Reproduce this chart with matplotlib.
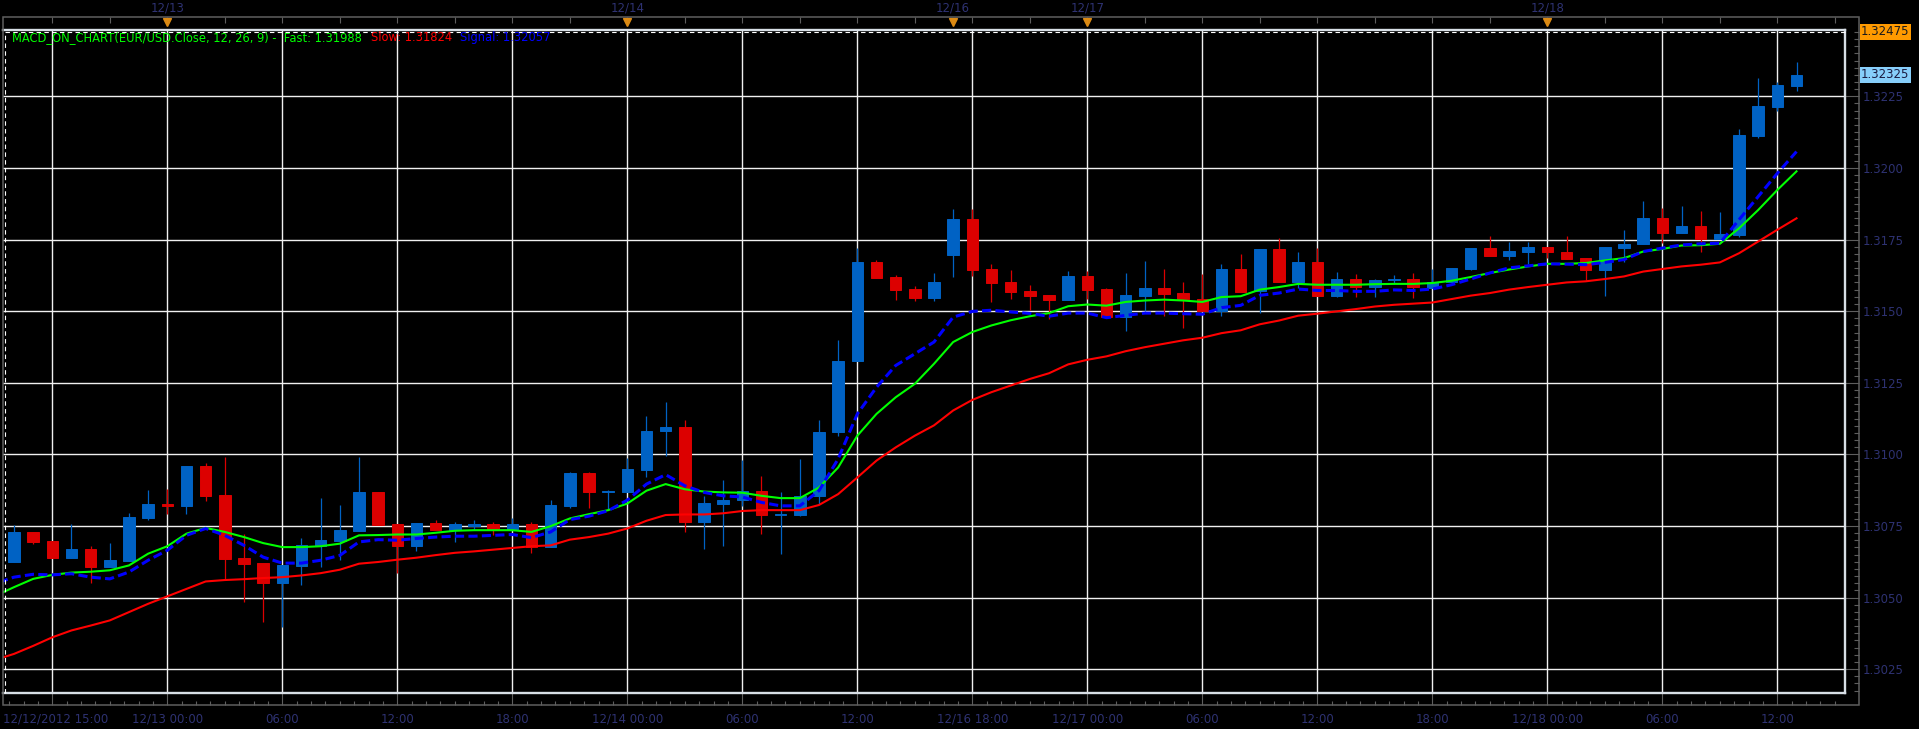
import numpy as np
import matplotlib
matplotlib.use("Agg")
import matplotlib.pyplot as plt
import matplotlib.transforms as mtransforms
from matplotlib.lines import Line2D
from matplotlib.patches import Rectangle

# hourly EUR/USD bars, first bar 12/12 16:00
opens = [1.30624, 1.30728, 1.30696, 1.30638, 1.30668, 1.30606, 1.30626, 1.30778, 1.30826, 1.30820,
         1.30959, 1.30857, 1.30637, 1.30619, 1.30549, 1.30610, 1.30680, 1.30697, 1.30733, 1.30868,
         1.30756, 1.30680, 1.30759, 1.30736, 1.30751, 1.30756, 1.30735, 1.30756, 1.30676, 1.30820,
         1.30935, 1.30869, 1.30869, 1.30945, 1.31080, 1.31096, 1.30762, 1.30827, 1.30842, 1.30873,
         1.30788, 1.30788, 1.30853, 1.31077, 1.31325, 1.31671, 1.31618, 1.31576, 1.31546, 1.31696,
         1.31821, 1.31646, 1.31601, 1.31569, 1.31555, 1.31539, 1.31622, 1.31576, 1.31478, 1.31553,
         1.31582, 1.31562, 1.31541, 1.31499, 1.31646, 1.31569, 1.31716, 1.31600, 1.31672, 1.31551,
         1.31613, 1.31584, 1.31607, 1.31613, 1.31580, 1.31600, 1.31648, 1.31720, 1.31691, 1.31708,
         1.31723, 1.31706, 1.31685, 1.31645, 1.31721, 1.31735, 1.31826, 1.31774, 1.31798, 1.31752,
         1.31766, 1.32112, 1.32213, 1.32287]
highs = [1.30752, 1.30728, 1.30696, 1.30756, 1.30679, 1.30689, 1.30794, 1.30877, 1.30878, 1.30959,
         1.30970, 1.30991, 1.30723, 1.30619, 1.30612, 1.30707, 1.30847, 1.30822, 1.30989, 1.30868,
         1.30756, 1.30759, 1.30770, 1.30764, 1.30770, 1.30763, 1.30779, 1.30763, 1.30840, 1.30938,
         1.30938, 1.30876, 1.30988, 1.31132, 1.31181, 1.31121, 1.30855, 1.30911, 1.30979, 1.30924,
         1.30869, 1.30985, 1.31121, 1.31398, 1.31719, 1.31678, 1.31625, 1.31588, 1.31632, 1.31856,
         1.31856, 1.31666, 1.31642, 1.31590, 1.31555, 1.31640, 1.31640, 1.31582, 1.31632, 1.31674,
         1.31646, 1.31601, 1.31630, 1.31664, 1.31700, 1.31716, 1.31756, 1.31707, 1.31720, 1.31636,
         1.31629, 1.31613, 1.31627, 1.31633, 1.31648, 1.31651, 1.31720, 1.31763, 1.31742, 1.31742,
         1.31723, 1.31763, 1.31685, 1.31723, 1.31784, 1.31884, 1.31861, 1.31867, 1.31850, 1.31846,
         1.32136, 1.32314, 1.32301, 1.32370]
lows = [1.30624, 1.30688, 1.30638, 1.30638, 1.30550, 1.30606, 1.30626, 1.30771, 1.30791, 1.30791,
        1.30836, 1.30564, 1.30486, 1.30413, 1.30398, 1.30543, 1.30605, 1.30631, 1.30733, 1.30752,
        1.30585, 1.30663, 1.30736, 1.30694, 1.30735, 1.30717, 1.30735, 1.30655, 1.30676, 1.30811,
        1.30813, 1.30805, 1.30869, 1.30920, 1.30995, 1.30730, 1.30668, 1.30680, 1.30820, 1.30723,
        1.30653, 1.30785, 1.30826, 1.31063, 1.31325, 1.31616, 1.31539, 1.31535, 1.31535, 1.31618,
        1.31624, 1.31531, 1.31541, 1.31503, 1.31473, 1.31539, 1.31541, 1.31478, 1.31430, 1.31499,
        1.31482, 1.31441, 1.31499, 1.31483, 1.31566, 1.31492, 1.31600, 1.31580, 1.31551, 1.31548,
        1.31548, 1.31548, 1.31595, 1.31544, 1.31580, 1.31600, 1.31645, 1.31691, 1.31679, 1.31665,
        1.31687, 1.31683, 1.31607, 1.31553, 1.31670, 1.31735, 1.31737, 1.31774, 1.31708, 1.31752,
        1.31760, 1.32106, 1.32197, 1.32270]
closes = [1.30728, 1.30694, 1.30638, 1.30668, 1.30606, 1.30630, 1.30780, 1.30826, 1.30820, 1.30959,
          1.30855, 1.30634, 1.30617, 1.30549, 1.30612, 1.30682, 1.30700, 1.30735, 1.30868, 1.30752,
          1.30680, 1.30759, 1.30736, 1.30756, 1.30755, 1.30736, 1.30756, 1.30676, 1.30822, 1.30935,
          1.30869, 1.30871, 1.30949, 1.31083, 1.31096, 1.30762, 1.30829, 1.30842, 1.30873, 1.30788,
          1.30793, 1.30855, 1.31079, 1.31327, 1.31671, 1.31616, 1.31574, 1.31546, 1.31601, 1.31821,
          1.31644, 1.31597, 1.31566, 1.31553, 1.31539, 1.31622, 1.31574, 1.31478, 1.31555, 1.31582,
          1.31560, 1.31541, 1.31499, 1.31646, 1.31566, 1.31716, 1.31600, 1.31672, 1.31551, 1.31613,
          1.31584, 1.31609, 1.31613, 1.31584, 1.31601, 1.31651, 1.31720, 1.31691, 1.31711, 1.31723,
          1.31705, 1.31683, 1.31645, 1.31723, 1.31735, 1.31826, 1.31774, 1.31798, 1.31752, 1.31770,
          1.32115, 1.32216, 1.32290, 1.32324]

# MACD_ON_CHART lines, one value per bar starting one bar earlier (12/12 15:00)
fast = [1.30505, 1.30536, 1.30565, 1.30579, 1.30587, 1.30590, 1.30595, 1.30612, 1.30653, 1.30679,
        1.30723, 1.30743, 1.30729, 1.30711, 1.30690, 1.30676, 1.30676, 1.30679, 1.30688, 1.30717,
        1.30718, 1.30720, 1.30720, 1.30726, 1.30733, 1.30735, 1.30735, 1.30735, 1.30729, 1.30749,
        1.30776, 1.30791, 1.30805, 1.30828, 1.30873, 1.30896, 1.30878, 1.30870, 1.30867, 1.30866,
        1.30855, 1.30847, 1.30847, 1.30884, 1.30954, 1.31065, 1.31141, 1.31199, 1.31246, 1.31316,
        1.31392, 1.31427, 1.31450, 1.31468, 1.31482, 1.31493, 1.31517, 1.31523, 1.31519, 1.31532,
        1.31537, 1.31540, 1.31537, 1.31532, 1.31549, 1.31552, 1.31575, 1.31584, 1.31595, 1.31592,
        1.31592, 1.31592, 1.31594, 1.31595, 1.31595, 1.31598, 1.31606, 1.31619, 1.31633, 1.31645,
        1.31656, 1.31665, 1.31665, 1.31668, 1.31677, 1.31685, 1.31708, 1.31717, 1.31729, 1.31730,
        1.31735, 1.31789, 1.31853, 1.31923, 1.31988]
slow = [1.30282, 1.30303, 1.30331, 1.30361, 1.30385, 1.30402, 1.30420, 1.30449, 1.30478, 1.30504,
        1.30530, 1.30556, 1.30561, 1.30564, 1.30568, 1.30571, 1.30577, 1.30585, 1.30597, 1.30618,
        1.30624, 1.30632, 1.30639, 1.30648, 1.30656, 1.30661, 1.30667, 1.30673, 1.30679, 1.30682,
        1.30702, 1.30711, 1.30723, 1.30741, 1.30768, 1.30788, 1.30790, 1.30790, 1.30794, 1.30802,
        1.30805, 1.30805, 1.30805, 1.30823, 1.30861, 1.30919, 1.30978, 1.31024, 1.31065, 1.31101,
        1.31153, 1.31190, 1.31217, 1.31240, 1.31263, 1.31283, 1.31314, 1.31330, 1.31342, 1.31360,
        1.31374, 1.31386, 1.31398, 1.31407, 1.31423, 1.31433, 1.31454, 1.31467, 1.31484, 1.31491,
        1.31499, 1.31507, 1.31516, 1.31522, 1.31526, 1.31530, 1.31542, 1.31554, 1.31563, 1.31575,
        1.31584, 1.31592, 1.31600, 1.31604, 1.31612, 1.31621, 1.31638, 1.31647, 1.31656, 1.31662,
        1.31670, 1.31702, 1.31743, 1.31784, 1.31824]
signal = [1.30548, 1.30571, 1.30581, 1.30579, 1.30583, 1.30571, 1.30565, 1.30589, 1.30630, 1.30665,
          1.30717, 1.30741, 1.30717, 1.30682, 1.30641, 1.30620, 1.30620, 1.30630, 1.30647, 1.30694,
          1.30702, 1.30700, 1.30706, 1.30711, 1.30714, 1.30714, 1.30717, 1.30720, 1.30709, 1.30729,
          1.30772, 1.30784, 1.30803, 1.30840, 1.30896, 1.30929, 1.30890, 1.30867, 1.30855, 1.30851,
          1.30832, 1.30820, 1.30820, 1.30873, 1.30984, 1.31141, 1.31234, 1.31310, 1.31351, 1.31392,
          1.31479, 1.31499, 1.31503, 1.31497, 1.31492, 1.31482, 1.31493, 1.31493, 1.31477, 1.31485,
          1.31493, 1.31493, 1.31491, 1.31489, 1.31512, 1.31520, 1.31555, 1.31563, 1.31577, 1.31572,
          1.31572, 1.31569, 1.31569, 1.31574, 1.31572, 1.31577, 1.31592, 1.31612, 1.31633, 1.31651,
          1.31658, 1.31665, 1.31664, 1.31662, 1.31670, 1.31680, 1.31708, 1.31720, 1.31731, 1.31735,
          1.31737, 1.31819, 1.31900, 1.31981, 1.32057]

time_labels = ["12/13 00:00", "06:00", "12:00", "18:00", "12/14 00:00", "06:00", "12:00",
               "12/16 18:00", "12/17 00:00", "06:00", "12:00", "18:00", "12/18 00:00", "06:00", "12:00"]
first_label = "12/12/2012 15:00"
day_labels = ["12/13", "12/14", "12/16", "12/17", "12/18"]
day_bars = [8, 32, 49, 56, 80]
price_ticks = [1.3025, 1.3050, 1.3075, 1.3100, 1.3125, 1.3150, 1.3175, 1.3200, 1.3225]
last_price = 1.32325
ask_price = 1.32475

BLUE = "#0062C4"
RED = "#DC0000"
LABEL = "#2E3272"
AXIS = "#5E5E5E"
FRAME = "#D8DFE6"
GRID = "#F0F0F0"
FS = 8.5

W, H = 1919, 729
fig = plt.figure(figsize=(W / 100, H / 100), dpi=100, facecolor="black")
L, R, T, B = 3, 1844.7, 30, 692.7
ax = fig.add_axes([L / W, 1 - B / H, (R - L) / W, (B - T) / H])
ax.set_facecolor("black")

o = np.array(opens)
h = np.array(highs)
lo = np.array(lows)
c = np.array(closes)
x = np.arange(len(o))
cols = np.where(c >= o, BLUE, RED)

ax.vlines(x, lo, h, colors=cols, lw=0.9, zorder=3)
ax.bar(x, np.abs(c - o), bottom=np.minimum(o, c), width=0.6, color=cols,
       edgecolor=cols, linewidth=0.7, zorder=4)

xl = np.arange(-1, len(fast) - 1)
ax.plot(xl, slow, color="#FF0000", lw=1.5, zorder=5)
ax.plot(xl, fast, color="#00FF00", lw=1.5, zorder=6)
ax.plot(xl, signal, color="#0000FF", lw=2.2, ls=(0, (3, 1.4)), zorder=7)

ax.set_xlim(-0.572, 95.514)
ax.set_ylim(1.301676, 1.324815)

# time axis (bottom) - gridlines every 6 bars, small ticks every 45 min
grid_bars = np.arange(2, len(o), 6)
ax.set_xticks(grid_bars)
ax.set_xticks(np.arange(-0.25, 95.5, 0.75), minor=True)
ax.spines["bottom"].set_position(("outward", 12.6 * 0.72))
ax.tick_params(axis="x", which="major", direction="in", length=12.6 * 0.72, width=0.8,
               color=AXIS, labelbottom=False)
ax.tick_params(axis="x", which="minor", direction="in", length=4.5 * 0.72, width=0.8, color=AXIS)

# price axis (right)
ax.yaxis.tick_right()
ax.set_yticks(price_ticks)
ax.set_yticklabels([f"{v:.4f}" for v in price_ticks])
ax.set_yticks(np.arange(1.30175, 1.3248, 0.00025), minor=True)
ax.spines["right"].set_position(("outward", 14.6 * 0.72))
ax.tick_params(axis="y", which="major", direction="in", length=14.6 * 0.72, width=0.8,
               color=AXIS, labelcolor=LABEL, labelsize=FS, pad=2.2)
ax.tick_params(axis="y", which="minor", direction="in", length=5 * 0.72, width=0.8, color=AXIS)

for s in ax.spines.values():
    s.set_color("none")

ax.grid(True, which="major", color=GRID, lw=1.0, zorder=1)
ax.set_axisbelow(True)

# top date strip
top = ax.secondary_xaxis(1 + (T - 17.3) / (B - T))
top.set_xticks(np.arange(2, 96, 3))
top.tick_params(direction="in", length=6 * 0.72, width=0.8, color=AXIS, labeltop=False)
top.spines["top"].set_color("none")

trans = mtransforms.blended_transform_factory(ax.transData, ax.transAxes)
ax.plot(day_bars, [(B - 22.5) / (B - T)] * len(day_bars), ls="none", marker="v", ms=6.3,
        color="#DB8A14", transform=trans, clip_on=False, zorder=12)
for b, lab in zip(day_bars, day_labels):
    ax.text(b, (B - 8.3) / (B - T), lab, transform=trans, ha="center", va="center",
            color=LABEL, fontsize=FS, clip_on=False)

y_lab = -(719.3 - B) / (B - T)
for b, lab in zip(grid_bars[1:], time_labels):
    ax.text(b, y_lab, lab, transform=trans, ha="center", va="center", color=LABEL,
            fontsize=FS, clip_on=False)
ax.text(0, y_lab, first_label, transform=ax.transAxes, ha="left", va="center",
        color=LABEL, fontsize=FS, clip_on=False)

# plot frame: solid top/right/bottom, dashed white inner top/left
for xs, ys in [((0, 1), (1, 1)), ((1, 1), (0, 1)), ((0, 1), (0, 0))]:
    ax.add_line(Line2D(xs, ys, transform=ax.transAxes, color=FRAME, lw=1.7,
                       clip_on=False, zorder=10))
yd = (B - 32.3) / (B - T)
xd = 1.5 / (R - L)
ax.add_line(Line2D((xd, 1), (yd, yd), transform=ax.transAxes, color="white", lw=0.8,
                   ls=(0, (4, 3)), clip_on=False, zorder=10))
ax.add_line(Line2D((xd, xd), (0, yd), transform=ax.transAxes, color="white", lw=0.8,
                   ls=(0, (4, 3)), clip_on=False, zorder=10))

fig.add_artist(Rectangle((3 / W, 1 - 705.3 / H), (1859.3 - 3) / W, (705.3 - 17.3) / H,
                         transform=fig.transFigure, fill=False, ec=AXIS, lw=1.1))

# price boxes on the right
tr_price = mtransforms.blended_transform_factory(fig.transFigure, ax.transData)
ax.text(1861 / W, ask_price, f"{ask_price:.5f}", transform=tr_price, ha="left", va="center",
        fontsize=FS, color="#1A1A1A", clip_on=False,
        bbox=dict(boxstyle="square,pad=0.12", fc="#FF9A00", ec="none"))
ax.text(1861 / W, last_price, f"{last_price:.5f}", transform=tr_price, ha="left", va="center",
        fontsize=FS, color="#1A1A40", clip_on=False,
        bbox=dict(boxstyle="square,pad=0.12", fc="#87CEFA", ec="none"))

# indicator caption, pieces chained left to right
y_leg = 1 - 37.5 / H
cap = fig.text(11.7 / W, y_leg, f"MACD_ON_CHART(EUR/USD.Close, 12, 26, 9) -  Fast: {fast[-1]:.5f}",
               color="#00FF00", fontsize=8.3, va="center")
cap2 = fig.text(0, 0, f"Slow: {slow[-1]:.5f}", color="#FF0000", fontsize=8.3, va="center")
cap2.set_position((1, 0.5))
cap2.set_transform(mtransforms.offset_copy(mtransforms.BboxTransformTo(cap.get_window_extent(fig.canvas.get_renderer())),
                                           fig=fig, x=6.5, y=0, units="points"))
cap3 = fig.text(0, 0, f"Signal: {signal[-1]:.5f}", color="#0000FF", fontsize=8.3, va="center")
cap3.set_position((1, 0.5))
cap3.set_transform(mtransforms.offset_copy(mtransforms.BboxTransformTo(cap2.get_window_extent(fig.canvas.get_renderer())),
                                           fig=fig, x=6.0, y=0, units="points"))

fig.savefig("out.png", dpi=100, facecolor="black")
